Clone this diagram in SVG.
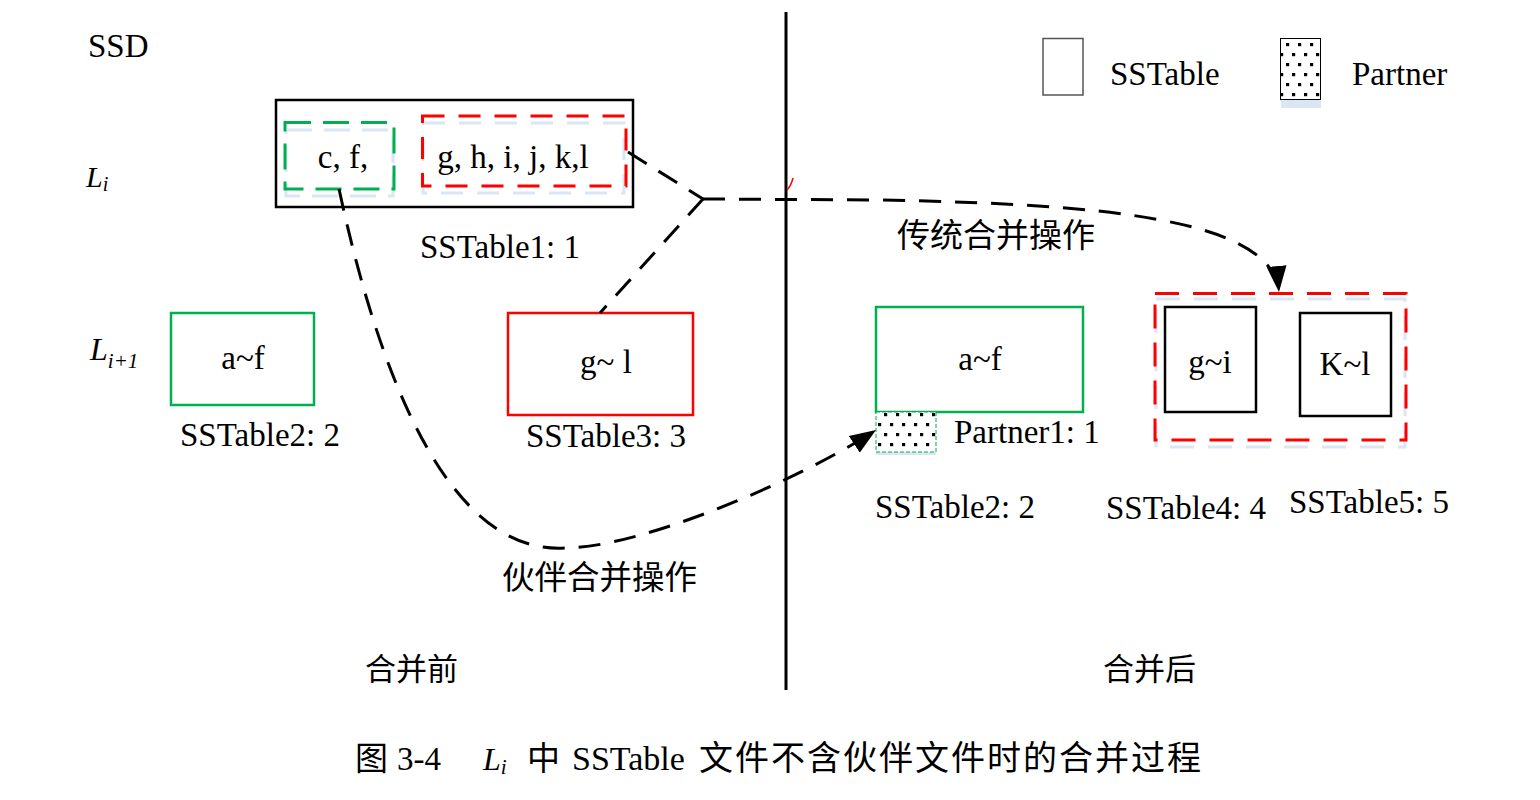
<svg xmlns="http://www.w3.org/2000/svg" width="1540" height="800" viewBox="0 0 1540 800">
<style>
.t{font-family:"Liberation Serif","Times New Roman",serif;fill:#000}
.it{font-style:italic}
.cn{font-family:"Noto Sans CJK SC","Noto Sans",sans-serif;fill:#000}
.shadow{fill:none;stroke:#dae6f3;stroke-width:3}
.dash{fill:none;stroke:#000;stroke-width:3;stroke-dasharray:22 14}
.gbox{fill:#fff;stroke:#00b050;stroke-width:2.5}
.rbox{fill:#fff;stroke:#ff0000;stroke-width:2.5}
.kbox{fill:#fff;stroke:#000;stroke-width:2.5}
</style>
<defs>
<pattern id="dots" patternUnits="userSpaceOnUse" width="12" height="20" x="0" y="0">
<rect width="12" height="20" fill="#fff"/>
<rect x="2" y="3" width="3.2" height="3.2" fill="#000"/>
<rect x="8" y="13" width="3.2" height="3.2" fill="#000"/>
</pattern>
<marker id="arr" markerUnits="userSpaceOnUse" markerWidth="26" markerHeight="20" viewBox="0 0 26 20" refX="26" refY="10" orient="auto">
<path d="M0,0 L26,10 L0,20 Z" fill="#000"/>
</marker>
</defs>
<rect width="1540" height="800" fill="#fff"/>

<g id="divider">
<line x1="786" y1="12" x2="786" y2="690" stroke="#000" stroke-width="3"/>
<path d="M793,178 Q791,186 787,190" fill="none" stroke="#ff0000" stroke-width="1.5"/>
</g>

<g id="labels">
<text class="t" x="88" y="57" font-size="33">SSD</text>
<text class="t it" x="86" y="187" font-size="30">L<tspan font-size="20" dy="4">i</tspan></text>
<text class="t it" x="90" y="360" font-size="32">L<tspan font-size="21" dy="8">i+1</tspan></text>
<text class="cn" x="365" y="680" font-size="31">合并前</text>
<text class="cn" x="1103" y="680" font-size="31">合并后</text>
</g>

<g id="legend">
<rect x="1043" y="38.5" width="40" height="56.5" fill="#fff" stroke="#555" stroke-width="1.5"/>
<text class="t" x="1110" y="85" font-size="33">SSTable</text>
<rect x="1281" y="100" width="40" height="8" fill="#dae6f3"/>
<rect x="1280.5" y="38.5" width="40" height="61" fill="url(#dots)" stroke="#000" stroke-width="1"/>
<text class="t" x="1352" y="85" font-size="33">Partner</text>
</g>

<g id="sstable1">
<rect class="kbox" x="276" y="100" width="357" height="107"/>
<rect class="shadow" x="286" y="130" width="107" height="66" stroke-dasharray="26 12"/>
<rect x="285" y="122.5" width="109" height="66.5" fill="none" stroke="#00b050" stroke-width="3" stroke-dasharray="26 12"/>
<rect class="shadow" x="423" y="123" width="201" height="70" stroke-dasharray="22 14"/>
<rect x="422.5" y="116" width="203.5" height="70" fill="none" stroke="#ff0000" stroke-width="3" stroke-dasharray="22 14"/>
<text class="t" x="343" y="168" font-size="33" text-anchor="middle">c, f,</text>
<text class="t" x="513" y="168" font-size="33" text-anchor="middle">g, h, i, j, k,l</text>
<text class="t" x="420" y="258" font-size="33">SSTable1: 1</text>
</g>

<g id="sstable2-before">
<rect class="gbox" x="171" y="313" width="143" height="92"/>
<text class="t" x="243" y="369" font-size="33" text-anchor="middle">a~f</text>
<text class="t" x="180" y="446" font-size="33">SSTable2: 2</text>
</g>

<g id="sstable3">
<rect class="rbox" x="508" y="313" width="185" height="102"/>
<text class="t" x="606" y="373" font-size="33" text-anchor="middle">g~ l</text>
<text class="t" x="526" y="447" font-size="33">SSTable3: 3</text>
</g>

<g id="sstable2-after">
<rect class="gbox" x="876" y="307" width="207" height="105"/>
<text class="t" x="980" y="370" font-size="33" text-anchor="middle">a~f</text>
<text class="t" x="875" y="518" font-size="33">SSTable2: 2</text>
</g>

<g id="partner1">
<line x1="876" y1="453.5" x2="936" y2="453.5" stroke="#dae6f3" stroke-width="3"/>
<rect x="876" y="412" width="60" height="40" fill="url(#dots)" stroke="#00b050" stroke-width="1" stroke-dasharray="4 2"/>
<text class="t" x="954" y="443" font-size="33">Partner1: 1</text>
</g>

<g id="merged-group">
<rect class="shadow" x="1156" y="299" width="249" height="148" stroke-dasharray="24 14"/>
<rect x="1155" y="293.5" width="251" height="146.5" fill="none" stroke="#ff0000" stroke-width="3" stroke-dasharray="24 14"/>
</g>

<g id="sstable4">
<rect class="kbox" x="1165" y="307" width="91" height="105"/>
<text class="t" x="1210" y="373" font-size="33" text-anchor="middle">g~i</text>
<text class="t" x="1106" y="519" font-size="33">SSTable4: 4</text>
</g>

<g id="sstable5">
<rect class="kbox" x="1300" y="313" width="91" height="103"/>
<text class="t" x="1345" y="375" font-size="33" text-anchor="middle">K~l</text>
<text class="t" x="1289" y="513" font-size="33">SSTable5: 5</text>
</g>

<g id="connectors">
<path class="dash" d="M628,152 L703,199"/>
<path class="dash" d="M703,199 L600,313"/>
<path class="dash" d="M703,199 L880,200 C1100,204 1272,218 1279,292" marker-end="url(#arr)"/>
<path class="dash" d="M339,189 C380,380 450,555 565,548 C640,548 800,480 876,430" marker-end="url(#arr)"/>
</g>

<g id="connector-labels">
<text class="cn" x="897" y="247" font-size="33">传统合并操作</text>
<text class="cn" x="502" y="589" font-size="32.5">伙伴合并操作</text>
</g>

<g id="caption">
<text class="cn" x="355" y="770" font-size="33">图</text>
<text class="t" x="397" y="770" font-size="33">3-4</text>
<text class="t it" x="483" y="770" font-size="32">L<tspan font-size="21" dy="4">i</tspan></text>
<text class="cn" x="527" y="770" font-size="33">中</text>
<text class="t" x="572" y="770" font-size="34">SSTable</text>
<text class="cn" x="699" y="770" font-size="34" letter-spacing="2">文件不含伙伴文件时的合并过程</text>
</g>
</svg>
